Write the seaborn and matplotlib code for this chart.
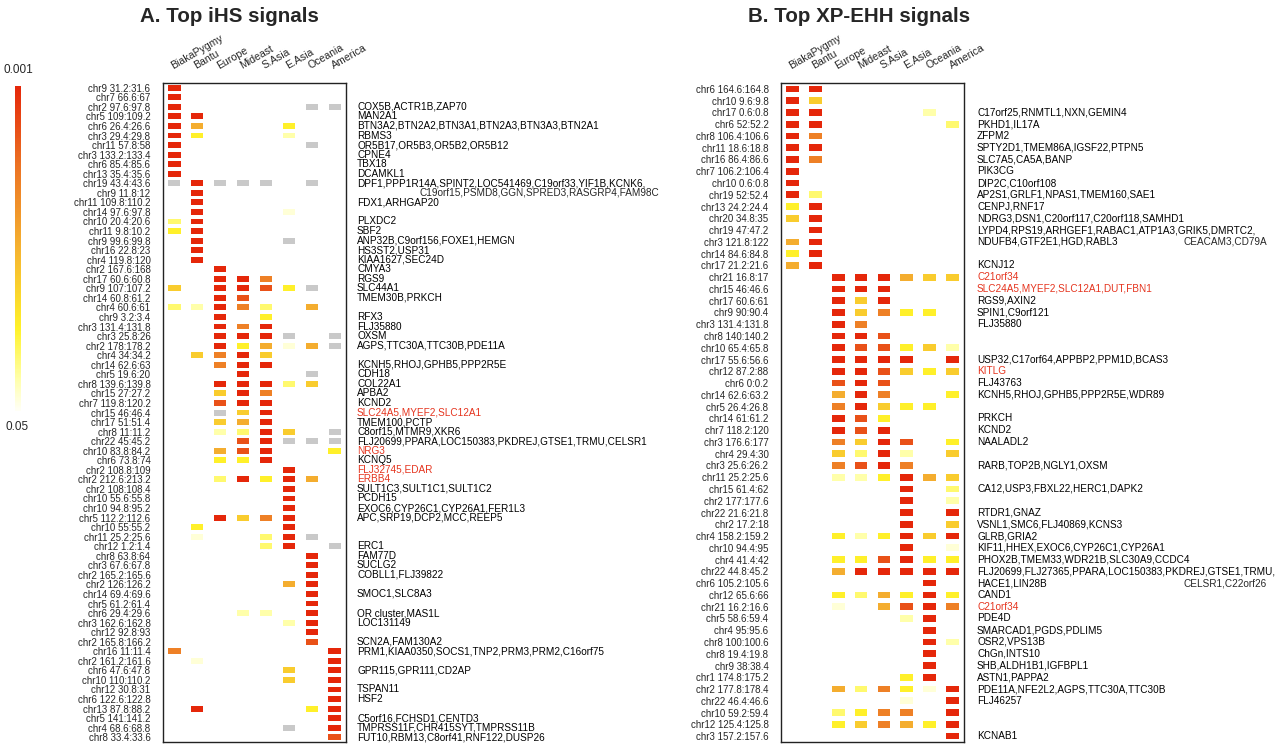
import numpy as np
import pandas as pd
import seaborn as sns
import matplotlib.pyplot as plt
import matplotlib.transforms as mtransforms
from matplotlib.colors import LinearSegmentedColormap, Normalize
from matplotlib.cm import ScalarMappable

sns.set_style("white")
plt.rcParams['font.family'] = ['Liberation Sans', 'DejaVu Sans']

pops = ["BiakaPygmy", "Bantu", "Europe", "Mideast", "S.Asia", "E.Asia", "Oceania", "America"]

# cell codes: '.' = nothing, 'g' = grey (NA), '1'..'9' = weak..strong signal
ihs_regions = ["chr9 31.2:31.6", "chr7 66.6:67", "chr2 97.6:97.8", "chr5 109:109.2", "chr6 26.4:26.6",
               "chr3 29.4:29.8", "chr11 57.8:58", "chr3 133.2:133.4", "chr6 85.4:85.6", "chr13 35.4:35.6",
               "chr19 43.4:43.6", "chr9 11.8:12", "chr11 109.8:110.2", "chr14 97.6:97.8", "chr10 20.4:20.6",
               "chr11 9.8:10.2", "chr9 99.6:99.8", "chr16 22.8:23", "chr4 119.8:120", "chr2 167.6:168",
               "chr17 60.6:60.8", "chr9 107:107.2", "chr14 60.8:61.2", "chr4 60.6:61", "chr9 3.2:3.4",
               "chr3 131.4:131.8", "chr3 25.8:26", "chr2 178:178.2", "chr4 34:34.2", "chr14 62.6:63",
               "chr5 19.6:20", "chr8 139.6:139.8", "chr15 27:27.2", "chr7 119.8:120.2", "chr15 46:46.4",
               "chr17 51:51.4", "chr8 11:11.2", "chr22 45:45.2", "chr10 83.8:84.2", "chr6 73.8:74",
               "chr2 108.8:109", "chr2 212.6:213.2", "chr2 108:108.4", "chr10 55.6:55.8", "chr10 94.8:95.2",
               "chr5 112.2:112.6", "chr10 55:55.2", "chr11 25.2:25.6", "chr12 1.2:1.4", "chr8 63.8:64",
               "chr3 67.6:67.8", "chr2 165.2:165.6", "chr2 126:126.2", "chr14 69.4:69.6", "chr5 61.2:61.4",
               "chr6 29.4:29.6", "chr3 162.6:162.8", "chr12 92.8:93", "chr2 165.8:166.2", "chr16 11:11.4",
               "chr2 161.2:161.6", "chr6 47.6:47.8", "chr10 110:110.2", "chr12 30.8:31", "chr6 122.6:122.8",
               "chr13 87.8:88.2", "chr5 141:141.2", "chr4 68.6:68.8", "chr8 33.4:33.6"]

ihs_cells = ["9.......", "9.......", "9.....gg", "99......", "96...4..",
             "94...2..", "9.....g.", "9.......", "9.......", "9.......",
             "g9ggg.g.", ".9......", ".9......", ".9...1..", "39......",
             "49......", ".9...g..", ".9......", ".9......", "..9.....",
             "..997...", "5.9984g.", "..98....", "32973.6.", "..9.4...",
             "..979...", "..999g.g", "..94616g", ".5795...", "..799...",
             "...9..g.", "..99935.", "..597...", "..899...", "..g59...",
             "..569...", "..2395.g", "...89ggg", "..689..4", "..449...",
             ".....9..", "..39496.", ".....9..", ".....9..", ".....9..",
             "..9579..", ".4...9..", ".1..39g.", "....39.g", "......9.",
             "......9.", "......9.", ".....69.", "......9.", "......9.",
             "...22.9.", ".....29.", "......9.", "......8.", "7......9",
             ".1.....9", ".....5.9", ".....5.9", ".......9", ".......9",
             ".9....49", ".......9", ".....g.9", ".......8"]

ihs_genes = ["", "", "COX5B,ACTR1B,ZAP70", "MAN2A1", "BTN3A2,BTN2A2,BTN3A1,BTN2A3,BTN3A3,BTN2A1",
             "RBMS3", "OR5B17,OR5B3,OR5B2,OR5B12", "CPNE4", "TBX18", "DCAMKL1",
             "DPF1,PPP1R14A,SPINT2,LOC541469,C19orf33,YIF1B,KCNK6,", "", "FDX1,ARHGAP20", "", "PLXDC2",
             "SBF2", "ANP32B,C9orf156,FOXE1,HEMGN", "HS3ST2,USP31", "KIAA1627,SEC24D", "CMYA3",
             "RGS9", "SLC44A1", "TMEM30B,PRKCH", "", "RFX3",
             "FLJ35880", "OXSM", "AGPS,TTC30A,TTC30B,PDE11A", "", "KCNH5,RHOJ,GPHB5,PPP2R5E",
             "CDH18", "COL22A1", "APBA2", "KCND2", "SLC24A5,MYEF2,SLC12A1",
             "TMEM100,PCTP", "C8orf15,MTMR9,XKR6", "FLJ20699,PPARA,LOC150383,PKDREJ,GTSE1,TRMU,CELSR1", "NRG3", "KCNQ5",
             "FLJ32745,EDAR", "ERBB4", "SULT1C3,SULT1C1,SULT1C2", "PCDH15", "EXOC6,CYP26C1,CYP26A1,FER1L3",
             "APC,SRP19,DCP2,MCC,REEP5", "", "", "ERC1", "FAM77D",
             "SUCLG2", "COBLL1,FLJ39822", "", "SMOC1,SLC8A3", "",
             "OR cluster,MAS1L", "LOC131149", "", "SCN2A,FAM130A2", "PRM1,KIAA0350,SOCS1,TNP2,PRM3,PRM2,C16orf75",
             "", "GPR115,GPR111,CD2AP", "", "TSPAN11", "HSF2",
             "", "C5orf16,FCHSD1,CENTD3", "TMPRSS11F,CHR415SYT,TMPRSS11B", "FUT10,RBM13,C8orf41,RNF122,DUSP26"]
ihs_red = ["SLC24A5,MYEF2,SLC12A1", "NRG3", "FLJ32745,EDAR", "ERBB4"]
ihs_extra = {11: "C19orf15,PSMD8,GGN,SPRED3,RASGRP4,FAM98C"}

xp_regions = ["chr6 164.6:164.8", "chr10 9.6:9.8", "chr17 0.6:0.8", "chr6 52:52.2", "chr8 106.4:106.6",
              "chr11 18.6:18.8", "chr16 86.4:86.6", "chr7 106.2:106.4", "chr10 0.6:0.8", "chr19 52:52.4",
              "chr13 24.2:24.4", "chr20 34.8:35", "chr19 47:47.2", "chr3 121.8:122", "chr14 84.6:84.8",
              "chr17 21.2:21.6", "chr21 16.8:17", "chr15 46:46.6", "chr17 60.6:61", "chr9 90:90.4",
              "chr3 131.4:131.8", "chr8 140:140.2", "chr10 65.4:65.8", "chr17 55.6:56.6", "chr12 87.2:88",
              "chr6 0:0.2", "chr14 62.6:63.2", "chr5 26.4:26.8", "chr14 61:61.2", "chr7 118.2:120",
              "chr3 176.6:177", "chr4 29.4:30", "chr3 25.6:26.2", "chr11 25.2:25.6", "chr15 61.4:62",
              "chr2 177:177.6", "chr22 21.6:21.8", "chr2 17.2:18", "chr4 158.2:159.2", "chr10 94.4:95",
              "chr4 41.4:42", "chr22 44.8:45.2", "chr6 105.2:105.6", "chr12 65.6:66", "chr21 16.2:16.6",
              "chr5 58.6:59.4", "chr4 95:95.6", "chr8 100:100.6", "chr8 19.4:19.8", "chr9 38:38.4",
              "chr1 174.8:175.2", "chr2 177.8:178.4", "chr22 46.4:46.6", "chr10 59.2:59.4", "chr12 125.4:125.8",
              "chr3 157.2:157.6"]

xp_cells = ["99......", "95......", "99....2.", "99.....3", "97......",
            "99......", "97......", "9.......", "9.......", "93......",
            "49......", "59......", ".9......", "69......", "49......",
            "69......", "..999655", "..999...", "..959...", "..95744.",
            "..97....", "..998...", "..988452", "..9999.9", "..998545",
            "..898...", "..697..4", "..79544.", "..984...", "..989...",
            "..7598.4", "..5392.5", "..7897..", "..224965", ".....9.3",
            ".....9.2", ".....9.9", ".....9.5", "..424959", ".....9.1",
            "..448944", "..699999", "......9.", "..436494", "..1.6897",
            ".....29.", "......9.", "......92", "......9.", "......9.",
            ".....49.", "..637419", ".....1.9", "..3477.9", "..457649",
            ".......9"]

xp_genes = ["", "", "C17orf25,RNMTL1,NXN,GEMIN4", "PKHD1,IL17A", "ZFPM2",
            "SPTY2D1,TMEM86A,IGSF22,PTPN5", "SLC7A5,CA5A,BANP", "PIK3CG", "DIP2C,C10orf108",
            "AP2S1,GRLF1,NPAS1,TMEM160,SAE1",
            "CENPJ,RNF17", "NDRG3,DSN1,C20orf117,C20orf118,SAMHD1",
            "LYPD4,RPS19,ARHGEF1,RABAC1,ATP1A3,GRIK5,DMRTC2,", "NDUFB4,GTF2E1,HGD,RABL3", "",
            "KCNJ12", "C21orf34", "SLC24A5,MYEF2,SLC12A1,DUT,FBN1", "RGS9,AXIN2", "SPIN1,C9orf121",
            "FLJ35880", "", "", "USP32,C17orf64,APPBP2,PPM1D,BCAS3", "KITLG",
            "FLJ43763", "KCNH5,RHOJ,GPHB5,PPP2R5E,WDR89", "", "PRKCH", "KCND2",
            "NAALADL2", "", "RARB,TOP2B,NGLY1,OXSM", "", "CA12,USP3,FBXL22,HERC1,DAPK2",
            "", "RTDR1,GNAZ", "VSNL1,SMC6,FLJ40869,KCNS3", "GLRB,GRIA2", "KIF11,HHEX,EXOC6,CYP26C1,CYP26A1",
            "PHOX2B,TMEM33,WDR21B,SLC30A9,CCDC4",
            "FLJ20699,FLJ27365,PPARA,LOC150383,PKDREJ,GTSE1,TRMU,", "HACE1,LIN28B", "CAND1", "C21orf34",
            "PDE4D", "SMARCAD1,PGDS,PDLIM5", "OSR2,VPS13B", "ChGn,INTS10", "SHB,ALDH1B1,IGFBPL1",
            "ASTN1,PAPPA2", "PDE11A,NFE2L2,AGPS,TTC30A,TTC30B", "FLJ46257", "", "",
            "KCNAB1"]
xp_red = ["C21orf34", "SLC24A5,MYEF2,SLC12A1,DUT,FBN1", "KITLG"]
xp_extra = {13: "CEACAM3,CD79A", 42: "CELSR1,C22orf26"}

# signal strength of each code on the 0.05 (0) .. 0.001 (1) scale
code_level = {"1": 0.04, "2": 0.10, "3": 0.17, "4": 0.26, "5": 0.40,
              "6": 0.52, "7": 0.70, "8": 0.86, "9": 1.0}

heat = LinearSegmentedColormap.from_list(
    "heat", [(0.0, "#FFFFF6"), (0.1, "#FFFFA8"), (0.25, "#FFF22A"),
             (0.5, "#F5B230"), (0.75, "#EC7424"), (1.0, "#E5270A")])
GREY = "#C9C9C9"
RED_TXT = "#E5341E"


def to_frames(cells):
    rows = []
    for i, codes in enumerate(cells):
        for j, c in enumerate(codes):
            if c == ".":
                continue
            rows.append({"col": j, "row": i, "kind": "na" if c == "g" else "sig",
                         "level": code_level.get(c, np.nan)})
    df = pd.DataFrame(rows)
    return df[df.kind == "sig"], df[df.kind == "na"]


fig = plt.figure(figsize=(12.8, 7.45), dpi=100)
W, H = 1280, 745


def panel(left_px, regions, cells, genes, red, extra, gene_x, title, title_x, ratio, size):
    ax = fig.add_axes([left_px / W, 1 - 742 / H, 183 / W, 659 / H])
    sig, na = to_frames(cells)
    rect = [(-1, -ratio), (1, -ratio), (1, ratio), (-1, ratio)]
    sns.scatterplot(data=sig, x="col", y="row", hue="level", palette=heat, hue_norm=(0, 1),
                    marker=rect, s=size, linewidth=0, legend=False, ax=ax)
    if len(na):
        sns.scatterplot(data=na, x="col", y="row", color=GREY,
                        marker=rect, s=size, linewidth=0, legend=False, ax=ax)
    n = len(regions)
    ax.set_xlim(-0.5, len(pops) - 0.5)
    ax.set_ylim(n - 0.5, -0.5)
    ax.set_yticks(range(n))
    ax.set_yticklabels(regions, fontsize=7.0)
    ax.xaxis.tick_top()
    ax.set_xticks(range(len(pops)))
    ax.set_xticklabels(pops, fontsize=7.6, rotation=30, ha="left", rotation_mode="anchor")
    ax.tick_params(axis="both", length=0)
    ax.tick_params(axis="y", pad=9)
    ax.tick_params(axis="x", pad=9)
    ax.set_xlabel("")
    ax.set_ylabel("")
    for sp in ax.spines.values():
        sp.set_visible(True)
        sp.set_color("#222222")
        sp.set_linewidth(1.0)

    tr = mtransforms.blended_transform_factory(fig.transFigure, ax.transData)
    for i, g in enumerate(genes):
        if g:
            ax.text(gene_x / W, i, g, transform=tr, fontsize=7.2, va="center", ha="left",
                    color=RED_TXT if g in red else "black", clip_on=False)
    for i, (xpx, g) in extra.items():
        ax.text(xpx / W, i, g, transform=tr, fontsize=7.2, va="center", ha="left", clip_on=False)

    fig.text(title_x / W, 1 - 16 / H, title, ha="center", va="center",
             fontsize=14.8, fontweight="bold")
    return ax


panel(163, ihs_regions, ihs_cells, ihs_genes, ihs_red,
      {k: (420, v) for k, v in ihs_extra.items()}, 357,
      "A. Top iHS signals", 229, 0.48, 78)
panel(781, xp_regions, xp_cells, xp_genes, xp_red,
      {k: (1183, v) for k, v in xp_extra.items()}, 977,
      "B. Top XP-EHH signals", 859, 0.53, 83)

# colour key
cax = fig.add_axes([15 / W, 1 - 411 / H, 6 / W, 325 / H])
cb = fig.colorbar(ScalarMappable(norm=Normalize(0, 1), cmap=heat), cax=cax)
cb.outline.set_visible(False)
cb.set_ticks([])
fig.text(3 / W, 1 - 70 / H, "0.001", fontsize=8.5, ha="left", va="center")
fig.text(5 / W, 1 - 427 / H, "0.05", fontsize=8.5, ha="left", va="center")

fig.savefig("out.png", dpi=100)
